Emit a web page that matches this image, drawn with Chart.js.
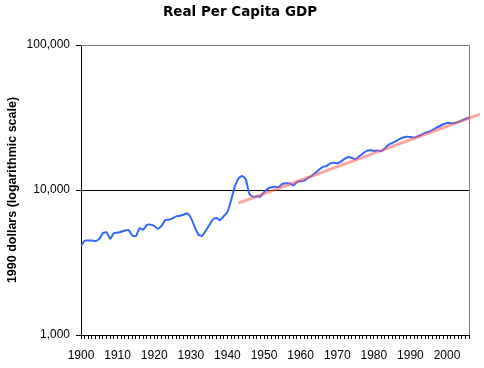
<!DOCTYPE html>
<html>
<head>
<meta charset="utf-8">
<script src="https://cdn.jsdelivr.net/npm/chart.js@4"></script>
<style>
  body { margin: 0; background: #fff; }
  canvas { display: block; }
</style>
</head>
<body>
<canvas id="gdp" width="484" height="368"></canvas>
<script>
// Real per capita GDP, 1990 dollars
const chartTitle = 'Real Per Capita GDP';
const firstYear = 1900;
const lastYear = 2006;
const gdp = [
  4110, 4470, 4480, 4480, 4450, 4600, 5050, 5100, 4620, 5050,   // 1900s
  5080, 5150, 5250, 5300, 4850, 4820, 5450, 5320, 5750, 5770,   // 1910s
  5650, 5400, 5650, 6200, 6230, 6380, 6580, 6650, 6750, 6900,   // 1920s
  6450, 5600, 4950, 4820, 5200, 5700, 6250, 6400, 6200, 6600,   // 1930s
  7050, 8500, 10500, 12000, 12500, 11900, 9400, 9000, 9050, 9000, // 1940s
  9650, 10200, 10450, 10550, 10450, 11000, 11120, 11100, 10770, 11350, // 1950s
  11500, 11600, 12100, 12500, 13100, 13800, 14400, 14600, 15200, 15400, // 1960s
  15300, 15700, 16400, 16900, 16640, 16300, 17100, 17800, 18600, 18800, // 1970s
  18600, 18700, 18500, 19300, 20500, 21100, 21700, 22400, 23000, 23300, // 1980s
  23200, 23000, 23500, 24000, 24800, 25200, 25900, 26800, 27600, 28400, // 1990s
  29000, 28900, 29000, 29400, 30200, 30900, 31500                 // 2000s
];
const years = gdp.map((v, i) => firstYear + i);

// exponential trend line, end points
const trendYears = [1943, 2009];
const trendValues = [8130, 33400];

const yTicks = [1000, 10000, 100000];

// gray top/right frame and the title centred on the whole picture
const framePlugin = {
  id: 'frame',
  afterDraw(chart) {
    const { ctx, chartArea: a } = chart;
    ctx.save();
    ctx.strokeStyle = '#808080';
    ctx.lineWidth = 1;
    ctx.beginPath();
    ctx.moveTo(a.left, a.top + 0.5);
    ctx.lineTo(a.right + 0.5, a.top + 0.5);
    ctx.lineTo(a.right + 0.5, a.bottom);
    ctx.stroke();

    ctx.fillStyle = '#000';
    ctx.font = 'bold 13.5px "DejaVu Sans"';
    ctx.textAlign = 'center';
    ctx.textBaseline = 'middle';
    ctx.fillText(chartTitle, 240, 12);
    ctx.restore();
  }
};

new Chart(document.getElementById('gdp'), {
  type: 'line',
  data: {
    datasets: [
      {
        label: chartTitle,
        data: years.map((y, i) => ({ x: y, y: gdp[i] })),
        borderColor: '#3366ff',
        borderWidth: 2,
        pointRadius: 0,
        tension: 0.2,
        order: 2
      },
      {
        label: 'Trend',
        data: trendYears.map((y, i) => ({ x: y, y: trendValues[i] })),
        borderColor: 'rgba(255, 90, 90, 0.55)',
        borderWidth: 3,
        pointRadius: 0,
        clip: false,
        order: 1
      }
    ]
  },
  options: {
    responsive: false,
    animation: false,
    layout: { padding: { left: 0, right: 15, top: 45, bottom: 0 } },
    plugins: {
      legend: { display: false },
      tooltip: { enabled: false },
      title: { display: false }
    },
    scales: {
      x: {
        type: 'linear',
        min: firstYear,
        max: lastYear,
        afterFit: s => { s.height = 33; },
        afterBuildTicks: s => {
          s.ticks = years.map(y => ({ value: y }));
        },
        ticks: {
          autoSkip: false,
          maxRotation: 0,
          padding: 9,
          color: '#000',
          font: { family: 'Liberation Sans', size: 12 },
          callback: v => (v % 10 === 0 ? String(v) : '')
        },
        grid: { drawOnChartArea: false, tickLength: 4, tickColor: '#000' },
        border: { color: '#000', width: 1 }
      },
      y: {
        type: 'logarithmic',
        min: 1000,
        max: 100000,
        afterFit: s => { s.width = 81; },
        afterBuildTicks: s => {
          s.ticks = yTicks.map(v => ({ value: v }));
        },
        ticks: {
          padding: 6,
          color: '#000',
          font: { family: 'Liberation Sans', size: 12 },
          callback: v => v.toLocaleString('en-US')
        },
        grid: {
          tickLength: 5,
          tickColor: '#000',
          color: c => (c.tick && c.tick.value === 10000 ? '#000' : 'rgba(0,0,0,0)')
        },
        border: { color: '#000', width: 1 },
        title: {
          display: true,
          text: '1990 dollars (logarithmic scale)',
          color: '#000',
          font: { family: 'Liberation Sans', size: 12.5, weight: 'bold' },
          padding: { top: 5, bottom: 0 }
        }
      }
    }
  },
  plugins: [framePlugin]
});
</script>
</body>
</html>
